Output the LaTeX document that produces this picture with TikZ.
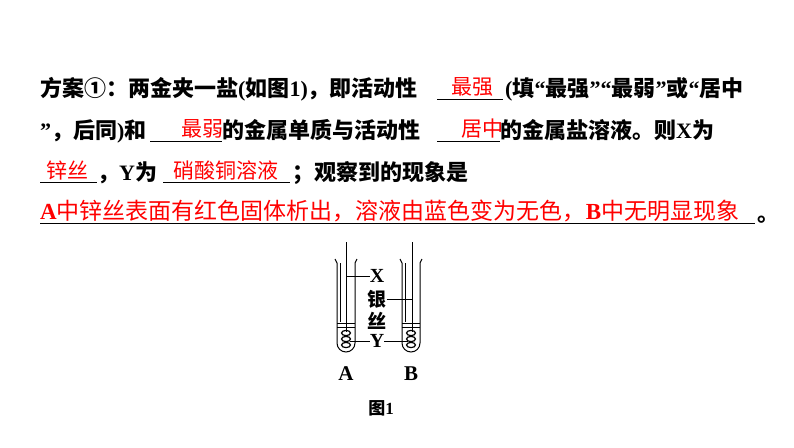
\documentclass[tikz,border=0pt]{standalone}
\usepackage{fontspec}
\setmainfont{Noto Sans CJK SC}
\newfontfamily\lat{Liberation Serif}
\newcommand{\myoq}{{\lat\bfseries “}}
\newcommand{\mycq}{{\lat\bfseries ”}}
\tikzset{t/.style={anchor=base west,inner sep=0pt,font=\fontsize{22}{24}\selectfont\bfseries},
 r/.style={anchor=base,inner sep=0pt,text=red,font=\fontsize{21}{24}\selectfont},
 ul/.style={line width=0.8pt},
 lab/.style={inner sep=0pt,font=\fontsize{18}{20}\selectfont\bfseries},
 wire/.style={line width=0.8pt}}
\begin{document}
\begin{tikzpicture}[x=1pt,y=-1pt]
\useasboundingbox (0,0) rectangle (794,447);
% line 1
\node[t] (l1a) at (40,96) {方案①：两金夹一盐{\lat(}如图{\lat 1)}，即活动性};
\draw[ul] (437,99) -- (503,99);
\node[r] (a1) at (472,94) {最强};
\node[t] (l1b) at (505,96) {{\lat(}填\myoq 最强\mycq\myoq 最弱\mycq 或\myoq 居中};
% line 2
\node[t] (l2a) at (40,138) {\mycq，后同{\lat)}和};
\draw[ul] (150,141) -- (222,141);
\node[r] (a2) at (202,136) {最弱};
\node[t] (l2b) at (222,138) {的金属单质与活动性};
\draw[ul] (437,141) -- (500,141);
\node[r] (a3) at (482,136) {居中};
\node[t] (l2c) at (500,138) {的金属盐溶液。则{\lat X}为};
% line 3
\node[r] (a4) at (67,178) {锌丝};
\draw[ul] (40,182) -- (97,182);
\node[t] (l3a) at (97,180) {，{\lat Y}为};
\node[r] (a5) at (226,178) {硝酸铜溶液};
\draw[ul] (163,182) -- (290,182);
\node[t] (l3b) at (292,180) {；观察到的现象是};
% line 4
\node[r,anchor=base west,font=\fontsize{23}{24}\selectfont] (a6) at (40,219) {{\lat\bfseries A}中锌丝表面有红色固体析出，溶液由蓝色变为无色，{\lat\bfseries B}中无明显现象};
\draw[ul] (40,223) -- (755,223);
\node[t] (l4) at (757,221) {。};
% tubes
\foreach \cx/\nm in {346/A,411/B}{
 \draw[line width=1pt] (\cx-11,259) -- (\cx-9,263) -- (\cx-9,343) arc[start angle=180,end angle=0,radius=9] -- (\cx+9,263) -- (\cx+11,259);
 \draw[line width=0.6pt] (\cx-6,263) -- (\cx-6,322);
 \draw[line width=0.6pt] (\cx-9,323) -- (\cx+9,323) (\cx-9,327) -- (\cx+9,327);
 \foreach \yy in {333,339,345}{\draw[line width=1.2pt] (\cx,\yy) ellipse[x radius=4.5,y radius=2.6];}
}
\coordinate (wa) at (346,242); \coordinate (wae) at (346,332);
\coordinate (wb) at (412,242); \coordinate (wbe) at (412,332);
\draw[wire] (wa) -- (wae);
\draw[wire] (wb) -- (wbe);
\node[lab,font=\fontsize{20}{20}\selectfont\bfseries\lat] (X) at (377,276) {X};
\node[lab,font=\fontsize{19}{20}\selectfont\bfseries] (yin) at (377,299) {银};
\node[lab,font=\fontsize{19}{20}\selectfont\bfseries] (si) at (377,321) {丝};
\node[lab,font=\fontsize{20}{20}\selectfont\bfseries\lat] (Y) at (377,341) {Y};
\draw[wire] (346,276) -- (X.west);
\draw[wire] (yin.east) -- (412,299);
\draw[wire] (350,341) -- (Y.west);
\draw[wire] (Y.east) -- (408,341);
\node[lab,font=\fontsize{21}{20}\selectfont\bfseries\lat] (A) at (346,374) {A};
\node[lab,font=\fontsize{21}{20}\selectfont\bfseries\lat] (B) at (411,374) {B};
\node[lab,font=\fontsize{17}{18}\selectfont\bfseries] (fig) at (381,408) {图{\lat 1}};
\end{tikzpicture}
\end{document}
